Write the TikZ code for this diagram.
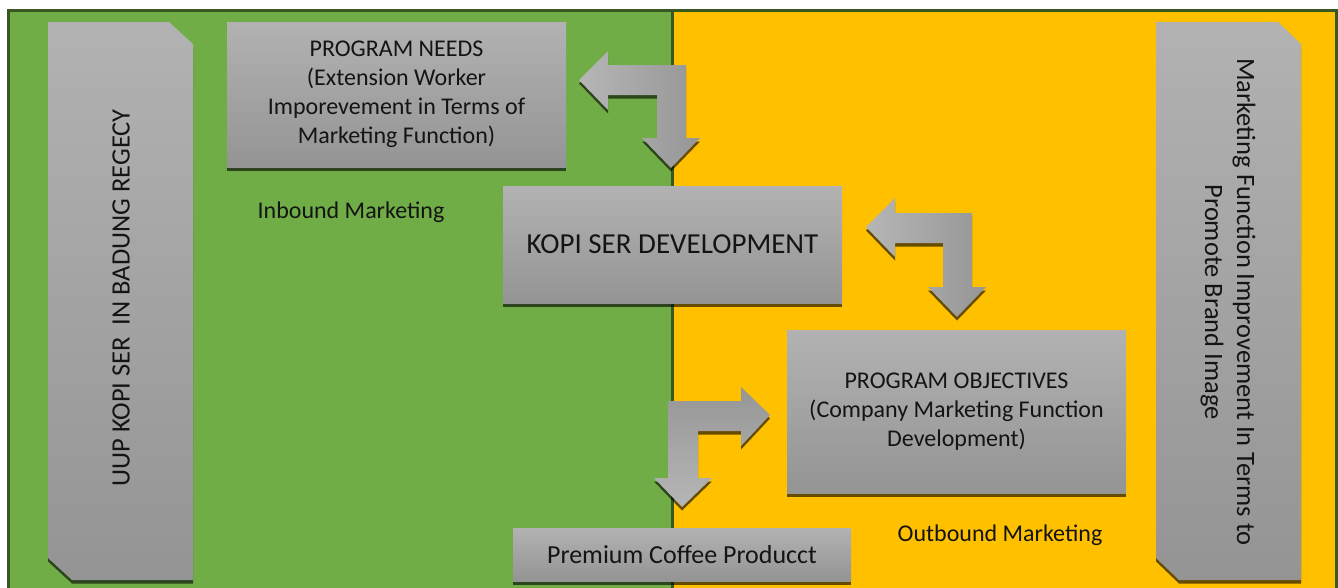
\documentclass[tikz,border=0pt]{standalone}
\usepackage{fontspec}
\setmainfont{Carlito}
\usetikzlibrary{shadows}

\definecolor{inboundgreen}{RGB}{112,173,71}
\definecolor{outboundorange}{RGB}{255,192,0}
\definecolor{framedark}{RGB}{56,87,35}
\definecolor{boxtop}{RGB}{178,178,178}
\definecolor{boxbot}{RGB}{148,148,148}
\definecolor{arrowlight}{RGB}{182,182,182}
\definecolor{arrowdark}{RGB}{150,150,150}

% shadow first, then the shaded shape on top
\newcommand{\shadedshape}[2]{%
  \fill[shapeshadow] #2;
  \shade[#1] #2;
}

\begin{document}
\begin{tikzpicture}[x=1pt, y=-1pt,
    block/.style={
      top color=boxtop,
      bottom color=boxbot,
      align=center,
      inner sep=0pt,
      text=black!92,
      font=\fontsize{24}{29}\selectfont,
      drop shadow={shadow xshift=0pt, shadow yshift=-3.5pt, fill=black, opacity=.6}
    },
    shapeshadow/.style={fill=black, opacity=.6, shift={(0,3.5)}},
    sidetext/.style={align=center, text=black!92, font=\fontsize{26.5}{32}\selectfont},
    zonetext/.style={text=black!92, font=\fontsize{24}{29}\selectfont}
  ]
    \useasboundingbox (0,0) rectangle (1338,587);

    % the two zones and their frame
    \fill[inboundgreen] (7,9) rectangle (672,592);
    \fill[outboundorange] (672,9) rectangle (1336,592);
    \draw[framedark, line width=3pt] (8.5,10.5) rectangle (1336,600);
    \draw[framedark, line width=3pt] (672.5,10) -- (672.5,592);

    % side panels
    \shadedshape{top color=boxtop, bottom color=boxbot}
      {(48,22) -- (169,22) -- (193,44) -- (193,580) -- (72,580) -- (48,558) -- cycle}
    \shadedshape{top color=boxtop, bottom color=boxbot}
      {(1156,22) -- (1278,22) -- (1301,44) -- (1301,580) -- (1179,580) -- (1156,558) -- cycle}
    \node[sidetext, rotate=90] (uup) at (121,298) {UUP KOPI SER\ \ IN BADUNG REGECY};
    \node[sidetext, rotate=-90] (brand) at (1228,302)
      {Marketing Function Improvement In Terms to\\Promote Brand Image};

    % main blocks
    \node[block, minimum width=339pt, minimum height=145pt] (needs) at (396.5,94.5)
      {PROGRAM NEEDS\\(Extension Worker\\Imporevement in Terms of\\Marketing Function)};
    \node[block, minimum width=339pt, minimum height=117pt,
      font=\fontsize{29}{35}\selectfont] (kopi) at (672.5,244.5) {KOPI SER DEVELOPMENT};
    \node[block, minimum width=339pt, minimum height=163pt] (objectives) at (956.5,411.5)
      {PROGRAM OBJECTIVES\\(Company Marketing Function\\Development)};
    \node[block, minimum width=338pt, minimum height=53pt,
      font=\fontsize{26}{31}\selectfont] (premium) at (682,554.5) {Premium Coffee Producct};

    \node[zonetext] (inbound) at (351,212) {Inbound Marketing};
    \node[zonetext] (outbound) at (1000,535) {Outbound Marketing};

    % bent block arrows
    \shadedshape{left color=arrowlight, right color=arrowdark}
      {(579,80) -- (608,51) -- (608,65) -- (686,65) -- (686,138) -- (700,138) -- (671,168)
       -- (642,138) -- (657,138) -- (657,95) -- (608,95) -- (608,110) -- cycle}
    \shadedshape{left color=arrowlight, right color=arrowdark}
      {(866,227) -- (895,198) -- (895,213) -- (972,213) -- (972,287) -- (986,287) -- (957,317)
       -- (928,287) -- (943,287) -- (943,243) -- (895,243) -- (895,257) -- cycle}
    \shadedshape{top color=arrowdark, bottom color=arrowlight}
      {(770,415) -- (741,387) -- (741,401) -- (668,401) -- (668,478) -- (654,478) -- (682,507)
       -- (712,478) -- (698,478) -- (698,431) -- (741,431) -- (741,446) -- cycle}
  \end{tikzpicture}
\end{document}
